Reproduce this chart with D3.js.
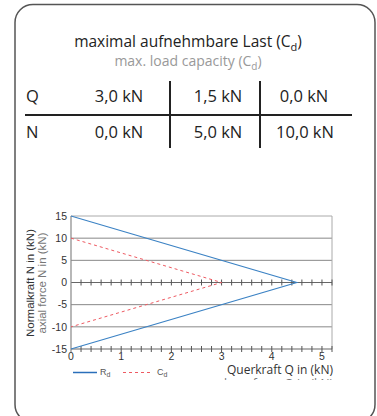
<!DOCTYPE html>
<html>
<head>
<meta charset="utf-8">
<script src="https://cdn.jsdelivr.net/npm/d3@7"></script>
<style>
  html, body { margin: 0; padding: 0; background: #fff; }
  svg { display: block; }
</style>
</head>
<body>
<svg id="chart" width="377" height="416"></svg>
<script>
  // table values
  var tableQ = ["3,0 kN", "1,5 kN", "0,0 kN"];
  var tableN = ["0,0 kN", "5,0 kN", "10,0 kN"];

  // chart series (Q in kN, N in kN)
  var rdQ = [0, 4.5, 0];
  var rdN = [15, 0, -15];
  var cdQ = [0, 3, 0];
  var cdN = [10, 0, -10];

  var qTicks = [0, 1, 2, 3, 4, 5];
  var nTicks = [15, 10, 5, 0, -5, -10, -15];
  var gridN = [10, 5, -5, -10];

  var svg = d3.select("svg#chart");
  var fSans = "'Open Sans', 'Noto Sans', sans-serif";
  var fHelv = "'Liberation Sans', Arial, sans-serif";

  // frame
  svg.append("rect")
      .attr("x", 15).attr("y", 4.5).attr("width", 360).attr("height", 418)
      .attr("rx", 18).attr("ry", 18)
      .attr("fill", "none").attr("stroke", "#555").attr("stroke-width", 1.5);

  // titles
  var t1 = svg.append("text").attr("x", 188).attr("y", 47)
      .attr("text-anchor", "middle").attr("font-family", fSans)
      .attr("font-size", 15.5).attr("fill", "#222");
  t1.append("tspan").text("maximal aufnehmbare Last (C");
  t1.append("tspan").attr("font-size", 11).attr("dy", 4).text("d");
  t1.append("tspan").attr("dy", -4).text(")");

  var t2 = svg.append("text").attr("x", 188).attr("y", 66)
      .attr("text-anchor", "middle").attr("font-family", fSans)
      .attr("font-size", 14).attr("fill", "#999");
  t2.append("tspan").text("max. load capacity (C");
  t2.append("tspan").attr("font-size", 10).attr("dy", 4).text("d");
  t2.append("tspan").attr("dy", -4).text(")");

  // table
  var colX = [119, 218, 304];
  var tbl = svg.append("g").attr("font-family", fSans).attr("font-size", 16.5).attr("fill", "#222");
  tbl.append("text").attr("x", 26).attr("y", 102).text("Q");
  tbl.append("text").attr("x", 26).attr("y", 138).text("N");
  tbl.selectAll("text.q").data(tableQ).enter().append("text")
      .attr("class", "q").attr("x", (d, i) => colX[i]).attr("y", 102)
      .attr("text-anchor", "middle").text(d => d);
  tbl.selectAll("text.n").data(tableN).enter().append("text")
      .attr("class", "n").attr("x", (d, i) => colX[i] + (i == 2 ? 1 : 0)).attr("y", 138)
      .attr("text-anchor", "middle").text(d => d);
  svg.append("line").attr("x1", 25).attr("x2", 352).attr("y1", 115).attr("y2", 115)
      .attr("stroke", "#222").attr("stroke-width", 2);
  [170, 260].forEach(function (x) {
      svg.append("line").attr("x1", x).attr("x2", x).attr("y1", 81).attr("y2", 148)
          .attr("stroke", "#222").attr("stroke-width", 2);
  });

  // chart scales
  var x = d3.scaleLinear().domain([0, 5.2]).range([71, 332]);
  var y = d3.scaleLinear().domain([-15, 15]).range([349, 216]);

  var plot = svg.append("g");

  // grid lines
  plot.selectAll("line.grid").data(gridN).enter().append("line")
      .attr("x1", x(0)).attr("x2", x(5.2)).attr("y1", d => y(d)).attr("y2", d => y(d))
      .attr("stroke", "#888").attr("stroke-width", 1);
  // top and right border
  plot.append("path")
      .attr("d", "M" + x(0) + "," + y(15) + "H" + x(5.2) + "V" + y(-15))
      .attr("fill", "none").attr("stroke", "#aaa").attr("stroke-width", 1);

  // minor ticks on zero line and bottom axis
  var minor = d3.range(0, 26).map(i => i * 0.2);
  [0, -15].forEach(function (v) {
      plot.append("line").attr("x1", x(0)).attr("x2", x(5.2)).attr("y1", y(v)).attr("y2", y(v))
          .attr("stroke", "#666").attr("stroke-width", 1.2);
      plot.selectAll(null).data(minor.slice(1).concat([5.2])).enter().append("line")
          .attr("x1", d => x(d)).attr("x2", d => x(d))
          .attr("y1", y(v) - 3).attr("y2", y(v) + 3)
          .attr("stroke", "#555").attr("stroke-width", 1);
  });
  // y axis line
  plot.append("line").attr("x1", x(0)).attr("x2", x(0)).attr("y1", y(15)).attr("y2", y(-15) + 3)
      .attr("stroke", "#888").attr("stroke-width", 1.2);

  // tick labels
  plot.selectAll("text.xt").data(qTicks).enter().append("text")
      .attr("x", d => x(d)).attr("y", 359.5).attr("text-anchor", "middle")
      .attr("font-family", fHelv).attr("font-size", 10.5).attr("fill", "#333").text(d => d);
  plot.selectAll("text.yt").data(nTicks).enter().append("text")
      .attr("x", 67).attr("y", d => y(d) + 3.8).attr("text-anchor", "end")
      .attr("font-family", fHelv).attr("font-size", 10.5).attr("fill", "#333").text(d => d);

  // series
  var line = d3.line().x(d => x(d[0])).y(d => y(d[1]));
  plot.append("path").datum(d3.zip(cdQ, cdN)).attr("d", line)
      .attr("fill", "none").attr("stroke", "#ee5a62").attr("stroke-width", 1)
      .attr("stroke-dasharray", "3,3");
  plot.append("path").datum(d3.zip(rdQ, rdN)).attr("d", line)
      .attr("fill", "none").attr("stroke", "#3b82c4").attr("stroke-width", 1.1);

  // axis titles (partly clipped like the source)
  var defs = svg.append("defs");
  defs.append("clipPath").attr("id", "clipY").append("rect")
      .attr("x", 26.5).attr("y", 200).attr("width", 40).attr("height", 160);
  defs.append("clipPath").attr("id", "clipX").append("rect")
      .attr("x", 200).attr("y", 360).attr("width", 160).attr("height", 20);

  var yt = svg.append("g").attr("clip-path", "url(#clipY)")
      .append("g").attr("transform", "translate(0,283) rotate(-90)")
      .attr("font-family", fHelv).attr("font-size", 11.5).attr("text-anchor", "middle");
  yt.append("text").attr("x", 0).attr("y", 34).attr("fill", "#333").text("Normalkraft N in (kN)");
  yt.append("text").attr("x", 0).attr("y", 45.5).attr("fill", "#777").text("axial force N in (kN)");

  var xt = svg.append("g").attr("clip-path", "url(#clipX)")
      .attr("font-family", fSans).attr("font-size", 12).attr("text-anchor", "end");
  xt.append("text").attr("x", 333).attr("y", 374).attr("fill", "#333").text("Querkraft Q in (kN)");
  xt.append("text").attr("x", 333).attr("y", 387.5).attr("fill", "#777").text("shear force Q in (kN)");

  // legend
  var lg = svg.append("g").attr("font-family", fHelv).attr("font-size", 9).attr("fill", "#555");
  lg.append("line").attr("x1", 73).attr("x2", 97).attr("y1", 372.5).attr("y2", 372.5)
      .attr("stroke", "#2a6fba").attr("stroke-width", 1.5);
  var r = lg.append("text").attr("x", 100).attr("y", 375);
  r.append("tspan").text("R");
  r.append("tspan").attr("font-size", 7).attr("dy", 2).text("d");
  lg.append("line").attr("x1", 123).attr("x2", 152).attr("y1", 372.5).attr("y2", 372.5)
      .attr("stroke", "#ee5a62").attr("stroke-width", 1).attr("stroke-dasharray", "3,3");
  var c = lg.append("text").attr("x", 157).attr("y", 375);
  c.append("tspan").text("C");
  c.append("tspan").attr("font-size", 7).attr("dy", 2).text("d");
</script>
</body>
</html>
